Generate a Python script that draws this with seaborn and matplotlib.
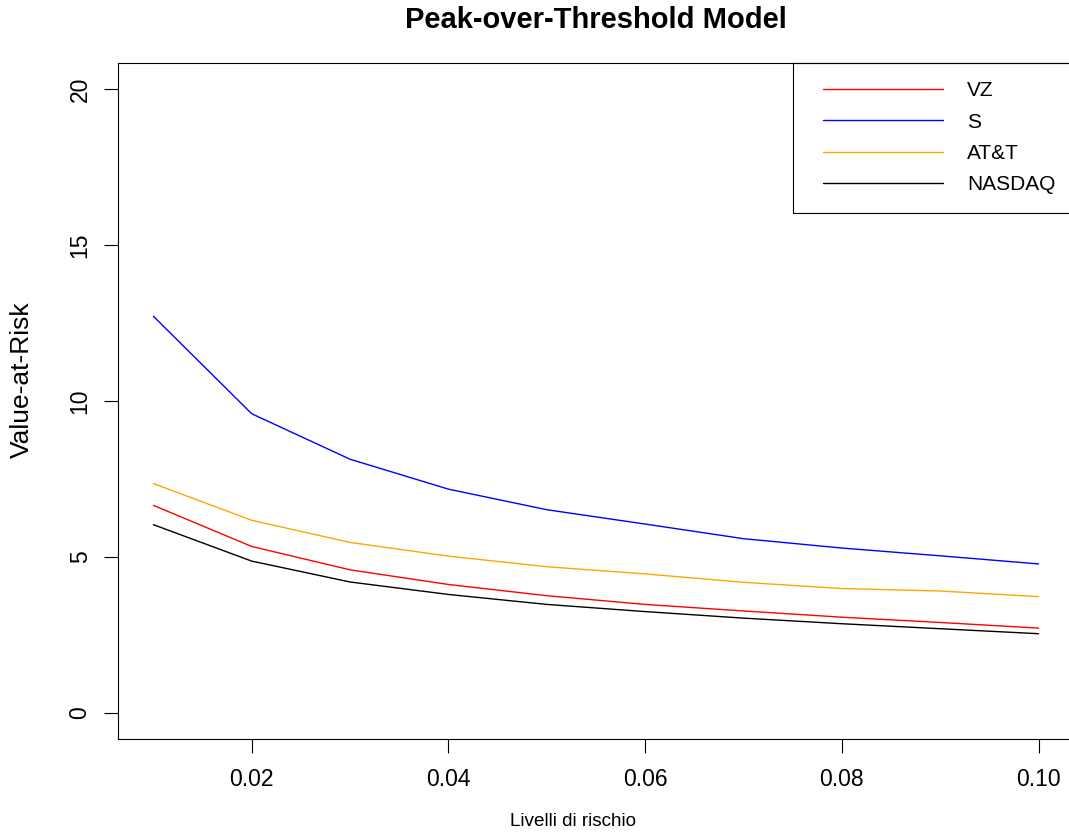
import numpy as np
import pandas as pd
import matplotlib
matplotlib.use("Agg")
import matplotlib.pyplot as plt
from matplotlib.patches import Rectangle
import seaborn as sns

# risk levels on the x axis
livelli = [0.01, 0.02, 0.03, 0.04, 0.05, 0.06, 0.07, 0.08, 0.09, 0.10]

# VaR estimates
var_vz = [6.65, 5.33, 4.58, 4.11, 3.75, 3.47, 3.26, 3.06, 2.89, 2.71]
var_s = [12.72, 9.59, 8.13, 7.17, 6.51, 6.05, 5.58, 5.28, 5.03, 4.77]
var_att = [7.35, 6.17, 5.46, 5.02, 4.68, 4.45, 4.18, 3.98, 3.90, 3.72]
var_nasdaq = [6.03, 4.86, 4.19, 3.79, 3.47, 3.24, 3.03, 2.85, 2.69, 2.53]

serie = ["VZ", "S", "AT&T", "NASDAQ"]
colori = ["#ff0000", "#0000ff", "#ffa500", "#000000"]

y_ticks = [0, 5, 10, 15, 20]
x_ticks = [0.02, 0.04, 0.06, 0.08, 0.10]
x_tick_labels = ["0.02", "0.04", "0.06", "0.08", "0.10"]

# long format table for seaborn
df = pd.DataFrame({
    "livello": livelli * 4,
    "var": var_vz + var_s + var_att + var_nasdaq,
    "serie": [s for s in serie for _ in livelli],
})

sns.set_style("white")
plt.rcParams["font.family"] = ["Liberation Sans", "DejaVu Sans"]
plt.rcParams["text.color"] = "black"
plt.rcParams["axes.labelcolor"] = "black"

fig = plt.figure(figsize=(10.69, 8.35), dpi=100)
W, H = 1069, 835
# axes box in pixels (R style, right side runs off the image)
left, right, top, bottom = 118, 1074, 63, 739
ax = fig.add_axes([left / W, 1 - bottom / H, (right - left) / W, (bottom - top) / H])

def ax_x(px):
    return (px - left) / (right - left)

def ax_y(py):
    return (bottom - py) / (bottom - top)

sns.lineplot(data=df, x="livello", y="var", hue="serie", palette=dict(zip(serie, colori)),
             hue_order=serie, linewidth=1.0, ax=ax, legend=False)

ax.set_xlim(0.0064, 0.1036)
ax.set_ylim(-0.85, 20.85)

ax.set_xticks(x_ticks)
ax.set_xticklabels(x_tick_labels)
ax.set_yticks(y_ticks)
ax.set_yticklabels([str(v) for v in y_ticks], rotation=90, va="center")

ax.tick_params(axis="both", direction="out", length=10, width=0.8, color="black",
               labelsize=16.5, labelcolor="black", left=True, bottom=True)
ax.tick_params(axis="x", pad=11)
ax.tick_params(axis="y", pad=9)

for sp in ax.spines.values():
    sp.set_color("black")
    sp.set_linewidth(0.8)
ax.spines["right"].set_visible(False)

# labels
ax.set_xlabel("Livelli di rischio", fontsize=13.6, color="black")
ax.xaxis.set_label_coords(ax_x(573), ax_y(822))
ax.xaxis.label.set_va("center")
ax.set_ylabel("Value-at-Risk", fontsize=19, color="black")
ax.yaxis.set_label_coords(ax_x(22), ax_y(380))
ax.yaxis.label.set_va("center")
ax.yaxis.label.set_ha("center")

ax.set_title("Peak-over-Threshold Model", fontsize=21, fontweight="bold", color="black",
             y=ax_y(20), va="center", pad=0)

# legend in the top right corner, R style box
ax.add_patch(Rectangle((ax_x(793), ax_y(213)), ax_x(1080) - ax_x(793), ax_y(63) - ax_y(213),
                       transform=ax.transAxes, fill=False, edgecolor="black",
                       linewidth=0.8, clip_on=False, zorder=5))
handles = [plt.Line2D([], [], color=c, linewidth=1.0) for c in colori]
leg = ax.legend(handles, serie, loc="upper left",
                bbox_to_anchor=(ax_x(823), ax_y(81)),
                borderaxespad=0, frameon=False, borderpad=0,
                fontsize=15, handlelength=5.77, handletextpad=1.15,
                labelspacing=0.6)
for t in leg.get_texts():
    t.set_color("black")

fig.savefig("out.png", dpi=100)
